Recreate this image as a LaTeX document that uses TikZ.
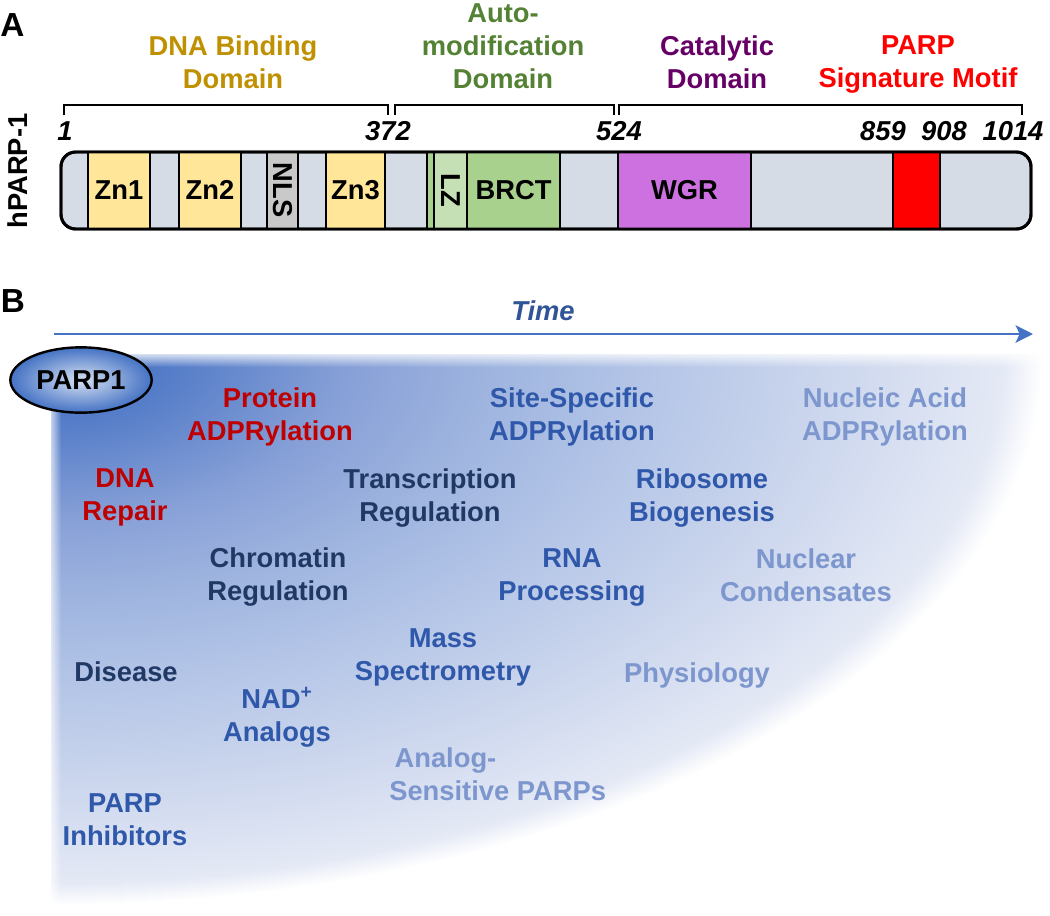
\documentclass[tikz,border=0pt]{standalone}
\usepackage{fontspec}
\setmainfont{Liberation Sans}
\usetikzlibrary{arrows.meta,shapes.geometric,fadings}
\definecolor{dbd}{HTML}{BF9000}
\definecolor{amd}{HTML}{548235}
\definecolor{cat}{HTML}{660066}
\definecolor{psm}{HTML}{FF0000}
\definecolor{gry}{HTML}{D6DCE5}
\definecolor{zny}{HTML}{FFE699}
\definecolor{nlsg}{HTML}{C9C9C9}
\definecolor{lzg}{HTML}{C5E0B4}
\definecolor{brg}{HTML}{A9D18E}
\definecolor{wgr}{HTML}{CD70E0}
\definecolor{tl}{HTML}{4472C4}
\definecolor{tm}{HTML}{2F5597}
\definecolor{early}{HTML}{C00000}
\definecolor{navy}{HTML}{203864}
\definecolor{mid}{HTML}{2F58AA}
\definecolor{late}{HTML}{7D97CE}
% colours of the time field, centre to rim
\definecolor{f0}{RGB}{62,104,188}
\definecolor{f1}{RGB}{84,124,200}
\definecolor{f2}{RGB}{135,160,215}
\definecolor{f3}{RGB}{158,180,223}
\definecolor{f4}{RGB}{180,197,231}
\definecolor{f5}{RGB}{206,216,238}
\definecolor{f6}{RGB}{228,233,245}
\pgfdeclareradialshading{timefield}{\pgfpoint{0bp}{0bp}}{color(0bp)=(f0); color(3bp)=(f1); color(7.5bp)=(f2); color(11bp)=(f3); color(15bp)=(f4); color(20bp)=(f5); color(24bp)=(f6); color(25bp)=(white); color(50bp)=(white)}
\tikzfading[name=fadedown, top color=transparent!0, bottom color=transparent!100]
\tikzfading[name=faderight, left color=transparent!0, right color=transparent!100]

\begin{document}
\begin{tikzpicture}[x=0.75pt,y=-0.75pt,
    lbl/.style={font=\fontsize{20.5}{24.75}\selectfont\bfseries,align=center,inner sep=0pt},
    num/.style={font=\fontsize{20.5}{24.75}\selectfont\bfseries\itshape,inner sep=0pt},
    panel/.style={font=\fontsize{25}{30}\selectfont\bfseries,inner sep=0pt},
    brace/.style={line width=1.5pt},
    dom/.style={draw,line width=1.5pt}]
  \useasboundingbox (0,0) rectangle (1050,915);

  % A: domain map
  \node[panel] (pa) at (12.5,25.5) {A};
  \node[lbl,dbd] (hdbd) at (233,62) {DNA Binding\\Domain};
  \node[lbl,amd] (hamd) at (503,46) {Auto-\\modification\\Domain};
  \node[lbl,cat] (hcat) at (717,62) {Catalytic\\Domain};
  \node[lbl,psm] (hpsm) at (918,64) {PARP\\Signature Motif};
  \draw[brace] (64,115) -- (64,105) -- (388,105) -- (388,115);
  \draw[brace] (395,115) -- (395,105) -- (614,105) -- (614,115);
  \draw[brace] (619,115) -- (619,105) -- (1022,105) -- (1022,115);
  \foreach \p/\n in {65/1,388/372,619/524,883/859,944/908,1013/1014}
    \node[num] (n\n) at (\p,131.5) {\n};

  \node[lbl,rotate=90] (hp) at (18,171) {hPARP-1};
  \draw[line width=2.2pt,fill=gry,rounded corners=11pt] (61,152) rectangle (1031,229);
  \foreach \a/\b/\c in {88/150/zny,179/241/zny,267/298/nlsg,326/385/zny,427/434/brg,
      434/467/lzg,467/560/brg,618/751/wgr,893/940/psm}
    \draw[dom,fill=\c] (\a,152) rectangle (\b,229);
  \draw[line width=2.2pt,rounded corners=11pt] (61,152) rectangle (1031,229);
  \node[lbl] (zn1) at (119,190) {Zn1};
  \node[lbl] (zn2) at (210,190) {Zn2};
  \node[lbl,rotate=-90] (nls) at (282.5,190) {NLS};
  \node[lbl] (zn3) at (355.5,190) {Zn3};
  \node[lbl,rotate=-90] (lz) at (450.5,190) {LZ};
  \node[lbl] (brct) at (513.5,190) {BRCT};
  \node[lbl] (wgrl) at (684.5,190) {WGR};

  % B: time line
  \node[panel] (pb) at (13,301.5) {B};
  \node[lbl,tm,font=\fontsize{20.5}{24.75}\selectfont\bfseries\itshape] (time) at (543,311) {Time};
  \coordinate (t0) at (54,334);
  \coordinate (t1) at (1033,334);
  \draw[tl,line width=2.2pt,-{Stealth[length=13pt,width=13pt,inset=3pt]}] (t0) -- (t1);

  \begin{scope}
    \clip (51,354) rectangle (1050,915);
    \shade[shading=timefield] (51,354) ellipse [x radius=992, y radius=551];
  \end{scope}
  \fill[white,path fading=fadedown] (40,350) rectangle (1050,367);
  \fill[white,path fading=faderight] (46,350) rectangle (61,915);

  \node[lbl,ellipse,draw,line width=1.8pt,inner color=tl!22,outer color=tl,
    minimum width=106pt,minimum height=49pt] (parp) at (81,380) {PARP1};

  \node[lbl,early] (prot) at (270,416.5) {Protein\\ADPRylation};
  \node[lbl,early] (dnar) at (125,497) {DNA\\Repair};
  \node[lbl,navy] (trx) at (430,497.5) {Transcription\\Regulation};
  \node[lbl,mid] (site) at (572,416.5) {Site-Specific\\ADPRylation};
  \node[lbl,late] (nuca) at (885,416.5) {Nucleic Acid\\ADPRylation};
  \node[lbl,mid] (ribo) at (702,498) {Ribosome\\Biogenesis};
  \node[lbl,navy] (chro) at (278,577) {Chromatin\\Regulation};
  \node[lbl,mid] (rnap) at (572,577) {RNA\\Processing};
  \node[lbl,late] (ncon) at (806,575) {Nuclear\\Condensates};
  \node[lbl,mid] (mass) at (443,657.5) {Mass\\Spectrometry};
  \node[lbl,navy] (dis) at (126,672) {Disease};
  \node[lbl,late] (phys) at (697,675) {Physiology};
  \node[lbl,mid] (nad) at (277,717) {NAD\textsuperscript{+}\\Analogs};
  \node[lbl,late,align=left,anchor=west] (asen) at (389,774) {\hspace{4pt}Analog-\\Sensitive PARPs};
  \node[lbl,mid] (inh) at (125,820) {PARP\\Inhibitors};
\end{tikzpicture}
\end{document}
